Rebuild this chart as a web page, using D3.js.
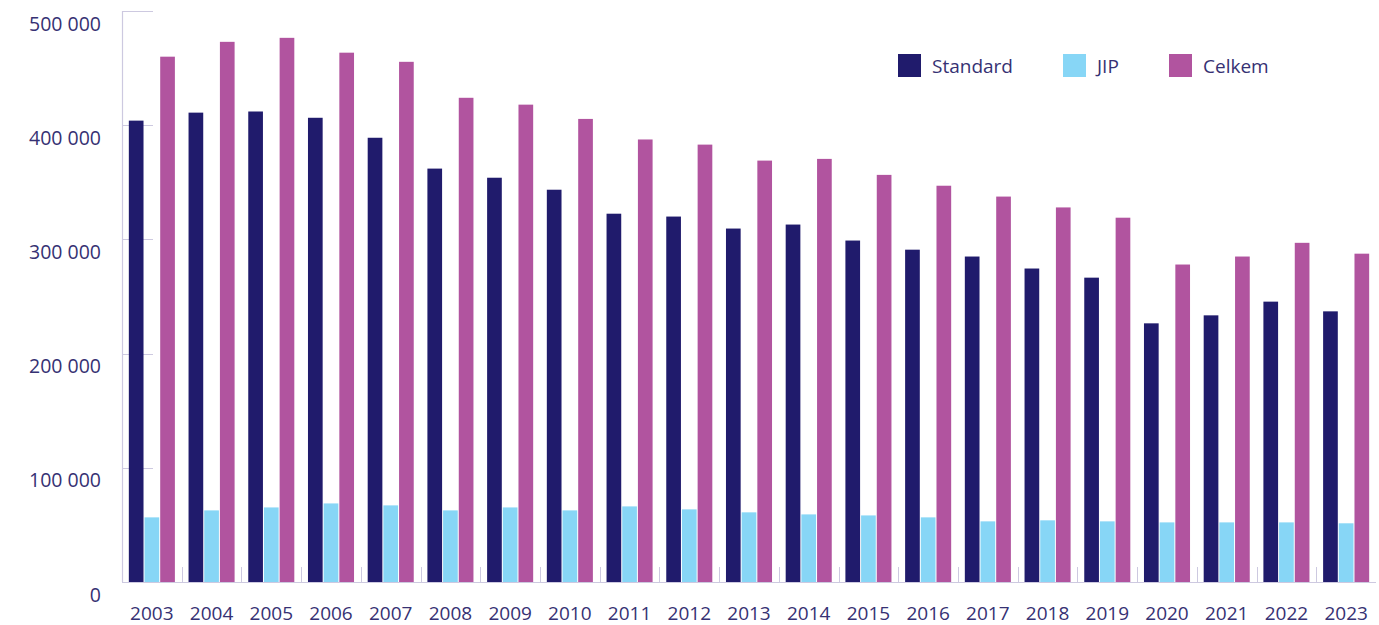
<!DOCTYPE html>
<html>
<head>
<meta charset="utf-8">
<script src="https://cdn.jsdelivr.net/npm/d3@7"></script>
<style>
  html, body { margin: 0; padding: 0; background: #fff; }
  svg { display: block; }
  text { font-family: "Open Sans", "Noto Sans", sans-serif; }
</style>
</head>
<body>
<svg id="chart" width="1379" height="625"></svg>
<script>
const years = ["2003","2004","2005","2006","2007","2008","2009","2010","2011","2012","2013","2014","2015","2016","2017","2018","2019","2020","2021","2022","2023"];
const seriesNames = ["Standard", "JIP", "Celkem"];
const standard = [404000, 411000, 412000, 406500, 389000, 362000, 354000, 343500, 322500, 320000, 309500, 313000, 299000, 291000, 285000, 274500, 266500, 226500, 233500, 245500, 237000];
const jip      = [56600, 62700, 65300, 68800, 67100, 62700, 65300, 62700, 66200, 63600, 61000, 59200, 58300, 56600, 53100, 54000, 53100, 52200, 52200, 52200, 51400];
const celkem   = [460000, 473000, 476500, 463500, 455500, 424000, 418000, 405500, 387500, 383000, 369000, 370500, 356500, 347000, 337500, 328000, 319000, 278000, 285000, 297000, 287500];
const yTicks = [0, 100000, 200000, 300000, 400000, 500000];
const yTickLabels = ["0", "100 000", "200 000", "300 000", "400 000", "500 000"];
const colors = ["#201b6c", "#87d6f6", "#b1549f"];

const rows = years.map((yr, i) => ({ year: yr, Standard: standard[i], JIP: jip[i], Celkem: celkem[i] }));

const svg = d3.select("#chart");
const textColor = "#363173";
const axisColor = "#cdc9e0";

const mLeft = 122, mRight = 1376, mTop = 11, mBottom = 582;

const x0 = d3.scaleBand().domain(years).range([mLeft, mRight]).padding(0);
const inset = x0.bandwidth() * 0.106;
const x1 = d3.scaleBand().domain(seriesNames).range([inset, x0.bandwidth() - inset]).padding(0);
const y = d3.scaleLinear().domain([0, 500000]).range([mBottom, mTop]);
const color = d3.scaleOrdinal().domain(seriesNames).range(colors);

// y-axis tick lines (inside) and labels
const yAxisG = svg.append("g");
yAxisG.selectAll("line")
  .data(yTicks.filter(d => d > 0))
  .join("line")
  .attr("x1", mLeft).attr("x2", mLeft + 31)
  .attr("y1", d => Math.round(y(d)) + 0.5).attr("y2", d => Math.round(y(d)) + 0.5)
  .attr("stroke", axisColor).attr("stroke-width", 1);
yAxisG.selectAll("text")
  .data(yTicks)
  .join("text")
  .attr("x", 101)
  .attr("y", d => y(d) + 19.5)
  .attr("text-anchor", "end")
  .attr("font-size", 19.5)
  .attr("fill", textColor)
  .text((d, i) => yTickLabels[i]);

// bars
const groups = svg.append("g").selectAll("g")
  .data(rows)
  .join("g")
  .attr("transform", d => `translate(${x0(d.year)},0)`);
groups.selectAll("rect")
  .data(d => seriesNames.map(k => ({ key: k, value: d[k] })))
  .join("rect")
  .attr("x", d => x1(d.key) + 0.5)
  .attr("width", x1.bandwidth() - 1)
  .attr("y", d => y(d.value))
  .attr("height", d => y(0) - y(d.value))
  .attr("fill", d => color(d.key));

// x category tick marks
svg.append("g").selectAll("line")
  .data(years.slice(1))
  .join("line")
  .attr("x1", d => Math.round(x0(d)) + 0.5).attr("x2", d => Math.round(x0(d)) + 0.5)
  .attr("y1", mBottom - 15).attr("y2", mBottom)
  .attr("stroke", axisColor).attr("stroke-width", 1);

// axis lines
svg.append("line")
  .attr("x1", mLeft + 0.5).attr("x2", mLeft + 0.5)
  .attr("y1", mTop).attr("y2", mBottom)
  .attr("stroke", axisColor).attr("stroke-width", 1.2);
svg.append("line")
  .attr("x1", mLeft).attr("x2", mRight)
  .attr("y1", mBottom + 0.5).attr("y2", mBottom + 0.5)
  .attr("stroke", axisColor).attr("stroke-width", 1.2);

// x labels
svg.append("g").selectAll("text")
  .data(years)
  .join("text")
  .attr("x", d => x0(d) + x0.bandwidth() / 2)
  .attr("y", 619.5)
  .attr("text-anchor", "middle")
  .attr("font-size", 19)
  .attr("fill", textColor)
  .text(d => d);

// legend
const legendX = [898, 1063, 1169];
const legend = svg.append("g").selectAll("g")
  .data(seriesNames)
  .join("g")
  .attr("transform", (d, i) => `translate(${legendX[i]},54)`);
legend.append("rect")
  .attr("width", 23).attr("height", 23)
  .attr("fill", d => color(d));
legend.append("text")
  .attr("x", 34).attr("y", 19)
  .attr("font-size", 19)
  .attr("fill", textColor)
  .text(d => d);
</script>
</body>
</html>
